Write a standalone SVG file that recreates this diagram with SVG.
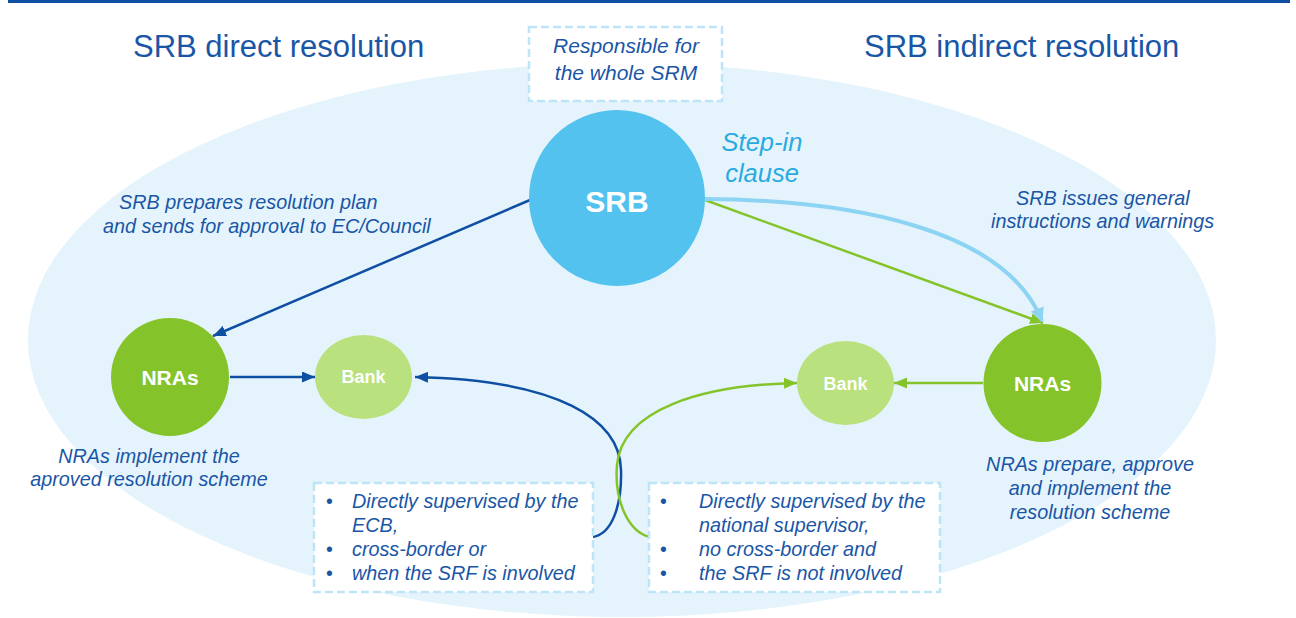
<svg xmlns="http://www.w3.org/2000/svg" width="1296" height="618" viewBox="0 0 1296 618">
<style>
text{font-family:"Liberation Sans",Arial,sans-serif}
.title{font-size:31px;fill:#1a56a6}
.lbl{font-size:19.8px;font-style:italic;fill:#1a56a6}
.bul{font-size:19.5px;fill:#1a56a6}
.white{fill:#ffffff;font-weight:bold;text-anchor:middle}
.dash{fill:#ffffff;stroke:#bde5f7;stroke-width:2.5;stroke-dasharray:8 4}
.db{fill:none;stroke:#0f4fa3;stroke-width:2.5}
.gr{fill:none;stroke:#84c42a;stroke-width:2.5}
.lb{fill:none;stroke:#8dd3f3;stroke-width:4}
</style>
<defs>
<marker id="aDb" markerUnits="userSpaceOnUse" markerWidth="13" markerHeight="11" refX="13" refY="5.5" orient="auto"><path d="M0,0 L13,5.5 L0,11 z" fill="#0f4fa3"/></marker>
<marker id="aGr" markerUnits="userSpaceOnUse" markerWidth="13" markerHeight="11" refX="13" refY="5.5" orient="auto"><path d="M0,0 L13,5.5 L0,11 z" fill="#84c42a"/></marker>
<marker id="aLb" markerUnits="userSpaceOnUse" markerWidth="14" markerHeight="14" refX="13" refY="7" orient="auto"><path d="M0,0 L14,7 L0,14 z" fill="#8dd3f3"/></marker>
</defs>
<rect x="8" y="0" width="1282" height="3" fill="#0f4fa3"/>
<ellipse cx="622" cy="340" rx="594" ry="277" fill="#e5f4fc"/>
<text class="title" x="133" y="57">SRB direct resolution</text>
<text class="title" x="864" y="57">SRB indirect resolution</text>
<g id="srm-note">
<rect class="dash" x="529" y="27" width="193" height="74"/>
<text class="lbl" x="626" y="53" text-anchor="middle" style="font-size:21px">Responsible for</text>
<text class="lbl" x="626" y="80" text-anchor="middle" style="font-size:21px">the whole SRM</text>
</g>
<g id="connectors">
<line class="db" x1="530" y1="200" x2="213" y2="336" marker-end="url(#aDb)"/>
<line class="db" x1="230" y1="377" x2="315" y2="377" marker-end="url(#aDb)"/>
<path class="db" d="M592,537 C612,535 622,505 621,470 C620,420 560,380 415,377" marker-end="url(#aDb)"/>
<path class="gr" d="M650,537 C628,532 614,500 617,465 C622,410 700,385 797,383" marker-end="url(#aGr)"/>
<line class="gr" x1="983" y1="383" x2="894" y2="383" marker-end="url(#aGr)"/>
<line class="gr" x1="705" y1="200" x2="1043" y2="323" marker-end="url(#aGr)"/>
<path class="lb" d="M705,199 C850,200 1005,228 1042,321" marker-end="url(#aLb)"/>
</g>
<g id="srb">
<circle cx="617" cy="198" r="88" fill="#53c2ef"/>
<text class="white" x="617" y="212" style="font-size:30px">SRB</text>
</g>
<g id="step-in">
<text x="762" y="151" text-anchor="middle" style="font-size:25.5px;font-style:italic;fill:#29abe2">Step-in</text>
<text x="762" y="182" text-anchor="middle" style="font-size:25.5px;font-style:italic;fill:#29abe2">clause</text>
</g>
<g id="nras-left">
<circle cx="170" cy="377" r="59" fill="#84c42a"/>
<text class="white" x="170" y="385" style="font-size:21px">NRAs</text>
</g>
<g id="bank-left">
<ellipse cx="363.5" cy="377" rx="48.5" ry="42" fill="#b9e17d"/>
<text class="white" x="363.5" y="383" style="font-size:18px">Bank</text>
</g>
<g id="bank-right">
<ellipse cx="845.5" cy="383" rx="48.5" ry="42" fill="#b9e17d"/>
<text class="white" x="845.5" y="390" style="font-size:18px">Bank</text>
</g>
<g id="nras-right">
<circle cx="1042.5" cy="383" r="59" fill="#84c42a"/>
<text class="white" x="1042.5" y="391" style="font-size:21px">NRAs</text>
</g>
<g id="label-srb-plan">
<text class="lbl" x="119" y="209">SRB prepares resolution plan</text>
<text class="lbl" x="103" y="233">and sends for approval to EC/Council</text>
</g>
<g id="label-srb-instr">
<text class="lbl" x="1016" y="205">SRB issues general</text>
<text class="lbl" x="991" y="228">instructions and warnings</text>
</g>
<g id="label-nras-impl">
<text class="lbl" x="149" y="463" text-anchor="middle">NRAs implement the</text>
<text class="lbl" x="149" y="486" text-anchor="middle">aproved resolution scheme</text>
</g>
<g id="label-nras-prep">
<text class="lbl" x="1090" y="471" text-anchor="middle">NRAs prepare, approve</text>
<text class="lbl" x="1090" y="495" text-anchor="middle">and implement the</text>
<text class="lbl" x="1090" y="519" text-anchor="middle">resolution scheme</text>
</g>
<g id="box-direct">
<rect class="dash" x="314" y="483" width="279" height="109"/>
<text class="bul" x="326" y="508">•</text>
<text class="bul" x="326" y="556">•</text>
<text class="bul" x="326" y="580">•</text>
<text class="lbl" x="352" y="508">Directly supervised by the</text>
<text class="lbl" x="352" y="532">ECB,</text>
<text class="lbl" x="352" y="556">cross-border or</text>
<text class="lbl" x="352" y="580">when the SRF is involved</text>
</g>
<g id="box-indirect">
<rect class="dash" x="649" y="483" width="291" height="109"/>
<text class="bul" x="660" y="508">•</text>
<text class="bul" x="660" y="556">•</text>
<text class="bul" x="660" y="580">•</text>
<text class="lbl" x="699" y="508">Directly supervised by the</text>
<text class="lbl" x="699" y="532">national supervisor,</text>
<text class="lbl" x="699" y="556">no cross-border and</text>
<text class="lbl" x="699" y="580">the SRF is not involved</text>
</g>
</svg>
